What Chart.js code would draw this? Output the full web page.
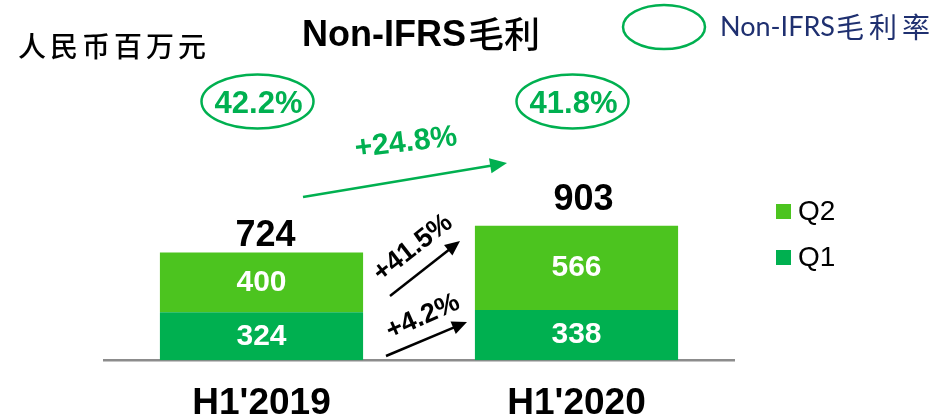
<!DOCTYPE html>
<html>
<head>
<meta charset="utf-8">
<script src="https://cdn.jsdelivr.net/npm/chart.js@4/dist/chart.umd.min.js"></script>
<style>
    html, body { margin: 0; padding: 0; background: #fff; }
    #quadro { width: 935px; height: 417px; }
</style>
</head>
<body>
<div id="quadro"><canvas id="graficoLucro" width="935" height="417"></canvas></div>
<script>
var periodos = ["H1'2019", "H1'2020"];
var valoresQ1 = [324, 338];
var valoresQ2 = [400, 566];
var totais = [724, 903];
var margens = ['42.2%', '41.8%'];
var nomesSeries = ['Q1', 'Q2'];
var crescimentoQ1 = '+4.2%';
var crescimentoQ2 = '+41.5%';
var crescimentoTotal = '+24.8%';

var VERDE_ESCURO = '#00b050';
var VERDE_CLARO = '#4cc41f';
var FONTE = '"Liberation Sans", Arial, "Noto Sans CJK SC"';
var FONTE_CJK = '"Noto Sans CJK SC"';

function desenharSeta(ctx, x1, y1, x2, y2, cor, largura, cabeca) {
    var ang = Math.atan2(y2 - y1, x2 - x1);
    ctx.save();
    ctx.strokeStyle = cor;
    ctx.fillStyle = cor;
    ctx.lineWidth = largura;
    ctx.beginPath();
    ctx.moveTo(x1, y1);
    ctx.lineTo(x2 - Math.cos(ang) * cabeca * 0.8, y2 - Math.sin(ang) * cabeca * 0.8);
    ctx.stroke();
    ctx.translate(x2, y2);
    ctx.rotate(ang);
    ctx.beginPath();
    ctx.moveTo(0, 0);
    ctx.lineTo(-cabeca, -cabeca * 0.45);
    ctx.lineTo(-cabeca, cabeca * 0.45);
    ctx.closePath();
    ctx.fill();
    ctx.restore();
}

function textoGirado(ctx, texto, x, y, graus, fonte, cor) {
    ctx.save();
    ctx.translate(x, y);
    ctx.rotate(graus * Math.PI / 180);
    ctx.font = fonte;
    ctx.fillStyle = cor;
    ctx.textAlign = 'center';
    ctx.textBaseline = 'middle';
    ctx.fillText(texto, 0, 0);
    ctx.restore();
}

const anotacoes = {
    id: 'anotacoes',
    afterDatasetsDraw(chart) {
        const ctx = chart.ctx;
        const metaQ1 = chart.getDatasetMeta(0);
        const metaQ2 = chart.getDatasetMeta(1);
        const ajusteTotal = [{ dx: 4, dy: 7 }, { dx: 7, dy: 16 }];

        ctx.save();
        ctx.textAlign = 'center';
        ctx.textBaseline = 'middle';

        // valores dentro das barras
        [metaQ1, metaQ2].forEach(function (meta, d) {
            meta.data.forEach(function (barra, i) {
                ctx.font = 'bold 30px ' + FONTE;
                ctx.fillStyle = '#ffffff';
                ctx.fillText(chart.data.datasets[d].data[i], barra.x, (barra.y + barra.base) / 2);
            });
        });

        // totais e margens
        metaQ2.data.forEach(function (barra, i) {
            ctx.font = 'bold 36px ' + FONTE;
            ctx.fillStyle = '#000000';
            ctx.textBaseline = 'alphabetic';
            ctx.fillText(totais[i], barra.x + ajusteTotal[i].dx, barra.y - ajusteTotal[i].dy);

            ctx.beginPath();
            ctx.ellipse(barra.x - 4, 101.5, 56, 27, 0, 0, Math.PI * 2);
            ctx.strokeStyle = VERDE_ESCURO;
            ctx.lineWidth = 2.5;
            ctx.stroke();
            ctx.font = 'bold 31px ' + FONTE;
            ctx.fillStyle = VERDE_ESCURO;
            ctx.textBaseline = 'middle';
            ctx.fillText(margens[i], barra.x - 3, 104);
        });
        ctx.restore();

        // setas de crescimento
        desenharSeta(ctx, 303, 197, 507, 163, VERDE_ESCURO, 2.5, 17);
        textoGirado(ctx, crescimentoTotal, 406, 143, -7, 'bold 30px ' + FONTE, VERDE_ESCURO);
        desenharSeta(ctx, 390, 296, 460, 241, '#000000', 2.5, 15);
        textoGirado(ctx, crescimentoQ2, 413, 248, -38, 'bold 27px ' + FONTE, '#000000');
        desenharSeta(ctx, 386, 356, 467, 322, '#000000', 2.5, 15);
        textoGirado(ctx, crescimentoQ1, 423, 317, -24, 'bold 27px ' + FONTE, '#000000');

        // títulos
        ctx.save();
        ctx.fillStyle = '#000000';
        ctx.textAlign = 'left';
        ctx.textBaseline = 'alphabetic';
        ctx.font = 'bold 36px ' + FONTE;
        ctx.fillText('Non-IFRS', 302, 46);
        var largTitulo = ctx.measureText('Non-IFRS').width;
        ctx.font = '500 36px ' + FONTE_CJK;
        ctx.fillText('毛利', 302 + largTitulo + 2, 48);
        ctx.font = '500 28px ' + FONTE_CJK;
        ctx.letterSpacing = '4px';
        ctx.textBaseline = 'middle';
        ctx.fillText('人民币百万元', 18, 46);
        ctx.letterSpacing = '0px';

        // legenda das margens (canto superior direito)
        ctx.beginPath();
        ctx.ellipse(664, 27, 41, 22, 0, 0, Math.PI * 2);
        ctx.strokeStyle = VERDE_ESCURO;
        ctx.lineWidth = 2.5;
        ctx.stroke();
        ctx.fillStyle = '#1f3070';
        ctx.font = '27px Lato, ' + FONTE_CJK;
        ctx.fillText('Non-IFRS', 720, 27);
        var larg = ctx.measureText('Non-IFRS').width;
        ctx.font = '28px ' + FONTE_CJK;
        ctx.letterSpacing = '5px';
        ctx.fillText('毛利率', 720 + larg + 1, 27);
        ctx.letterSpacing = '0px';

        // legenda Q2 / Q1
        var itens = chart.data.datasets.slice().reverse();
        itens.forEach(function (ds, i) {
            var yc = 211.5 + i * 46;
            ctx.fillStyle = ds.backgroundColor;
            ctx.fillRect(776, yc - 7.5, 15, 15);
            ctx.fillStyle = '#000000';
            ctx.font = '28px ' + FONTE;
            ctx.fillText(ds.label, 798, yc + 1);
        });
        ctx.restore();
    }
};

const dadosGrafico = {
    labels: periodos,
    datasets: [
        {
            label: nomesSeries[0],
            data: valoresQ1,
            backgroundColor: VERDE_ESCURO,
            borderWidth: 0
        },
        {
            label: nomesSeries[1],
            data: valoresQ2,
            backgroundColor: VERDE_CLARO,
            borderWidth: 0
        }
    ]
};

const config = {
    type: 'bar',
    data: dadosGrafico,
    options: {
        responsive: false,
        animation: false,
        categoryPercentage: 1,
        barPercentage: 0.645,
        layout: {
            // o eixo x conta o padding dos ticks duas vezes, compensa aqui
            padding: { left: 104, right: 201, top: 152, bottom: -30 }
        },
        plugins: {
            legend: { display: false },
            tooltip: { enabled: false }
        },
        scales: {
            x: {
                stacked: true,
                grid: { display: false, drawTicks: false },
                border: { display: true, color: '#8c8c8c', width: 2.5 },
                ticks: {
                    color: '#000000',
                    padding: 30,
                    font: { family: FONTE, size: 37, weight: 'bold', lineHeight: 0.72 }
                }
            },
            y: {
                stacked: true,
                display: false,
                min: 0,
                max: 1400
            }
        }
    },
    plugins: [anotacoes]
};

const meuGrafico = new Chart(document.getElementById('graficoLucro'), config);
</script>
</body>
</html>
